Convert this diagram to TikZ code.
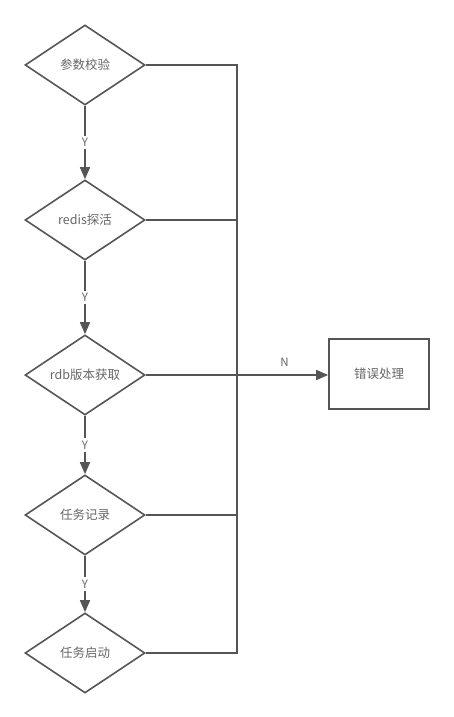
\documentclass[tikz,border=0pt]{standalone}
\usepackage{fontspec}
\setmainfont{Noto Sans CJK SC}
\usetikzlibrary{arrows.meta,shapes.geometric}
\definecolor{lineclr}{HTML}{555555}
\definecolor{textclr}{HTML}{666666}

\begin{document}
\begin{tikzpicture}[x=1pt, y=-1pt,
    every node/.style={font=\fontsize{12.5}{14}\selectfont, text=textclr},
    check/.style={diamond, draw=lineclr, line width=1.6pt, minimum width=120pt,
        minimum height=80pt, inner sep=0pt, aspect=1.5},
    handler/.style={rectangle, draw=lineclr, line width=1.6pt, minimum width=100pt,
        minimum height=70pt},
    flow/.style={draw=lineclr, line width=1.6pt},
    yes/.style={fill=white, inner sep=2.5pt, font=\fontsize{11.5}{13}\selectfont},
]
\useasboundingbox (0,0) rectangle (454,717);

% Checks
\node[check] (param) at (85, 65) {参数校验};
\node[check] (redis) at (85, 220) {redis探活};
\node[check] (rdb) at (85, 375) {rdb版本获取};
\node[check] (record) at (85, 515) {任务记录};
\node[check] (start) at (85, 653) {任务启动};

% Error handling
\node[handler] (error) at (379, 374) {错误处理};

% Main flow
\draw[flow, -{Triangle[length=12pt, width=10pt]}] (param) -- (redis) node[midway, yes] {Y};
\draw[flow, -{Triangle[length=12pt, width=10pt]}] (redis) -- (rdb) node[midway, yes] {Y};
\draw[flow, -{Triangle[length=12pt, width=10pt]}] (rdb) -- (record) node[midway, yes] {Y};
\draw[flow, -{Triangle[length=12pt, width=10pt]}] (record) -- (start) node[midway, yes] {Y};

% Failure bus
\coordinate (bustop) at (237, 65);
\coordinate (busbot) at (237, 653);
\draw[flow] (param.east) -- (bustop) -- (busbot) -- (start.east);
\draw[flow] (redis.east) -- (redis.east -| bustop);
\draw[flow] (record.east) -- (record.east -| bustop);
\draw[flow, -{Triangle[length=12pt, width=10pt]}] (rdb.east) -- (rdb.east -| error.west)
    node[pos=0.76, above=4pt, font=\fontsize{11.5}{13}\selectfont] {N};

\end{tikzpicture}
\end{document}
